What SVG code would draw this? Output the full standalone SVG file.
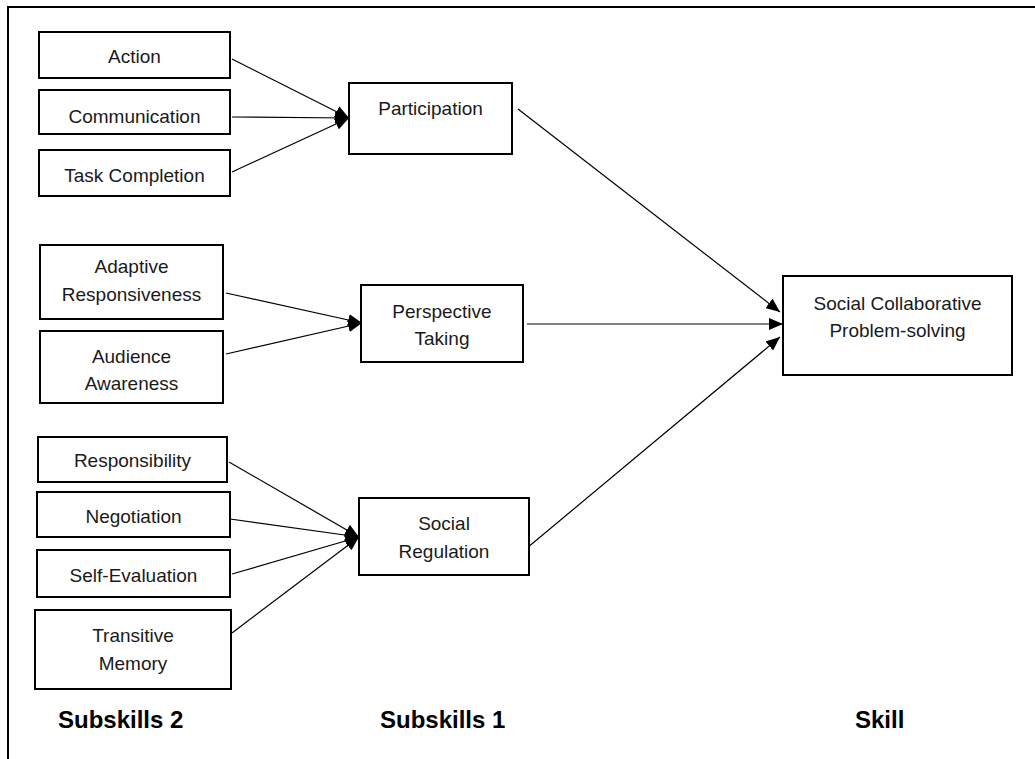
<svg xmlns="http://www.w3.org/2000/svg" width="1035" height="759" viewBox="0 0 1035 759">
  <style>
    .box { fill: #ffffff; stroke: #000000; stroke-width: 2; }
    .lbl { font-family: "Liberation Sans", Arial, sans-serif; font-size: 19px; fill: #1a1a1a; text-anchor: middle; }
    .head { font-family: "Liberation Sans", Arial, sans-serif; font-size: 24px; font-weight: bold; fill: #000000; text-anchor: start; }
    .edge { fill: none; stroke: #000000; stroke-width: 1.2; marker-end: url(#arrow); }
  </style>
  <defs>
    <marker id="arrow" markerUnits="userSpaceOnUse" markerWidth="14" markerHeight="12" refX="14" refY="6" orient="auto">
      <path d="M0,0 L14,6 L0,12 Z" fill="#000000"/>
    </marker>
  </defs>

  <rect width="1035" height="759" fill="#ffffff"/>
  <!-- outer frame (top and left edges visible) -->
  <rect x="8" y="7" width="1100" height="800" fill="none" stroke="#000000" stroke-width="2"/>

  <!-- connectors -->
  <g id="connectors">
    <line class="edge" x1="232" y1="59" x2="349" y2="118"/>
    <line class="edge" x1="232" y1="117" x2="349" y2="118"/>
    <line class="edge" x1="232" y1="172" x2="349" y2="118"/>

    <line class="edge" x1="226" y1="293" x2="362" y2="323"/>
    <line class="edge" x1="226" y1="354" x2="362" y2="323"/>

    <line class="edge" x1="229" y1="462" x2="359" y2="537"/>
    <line class="edge" x1="230" y1="519" x2="359" y2="537"/>
    <line class="edge" x1="232" y1="574" x2="359" y2="537"/>
    <line class="edge" x1="232" y1="633" x2="359" y2="537"/>

    <line class="edge" x1="518" y1="109" x2="780" y2="312"/>
    <line class="edge" x1="527" y1="324" x2="783" y2="324"/>
    <line class="edge" x1="527" y1="548" x2="780" y2="337"/>
  </g>

  <!-- subskills 2 -->
  <g id="action">
    <rect class="box" x="39" y="32" width="191" height="46"/>
    <text class="lbl" x="134.5" y="63">Action</text>
  </g>
  <g id="communication">
    <rect class="box" x="39" y="90" width="191" height="44"/>
    <text class="lbl" x="134.5" y="123">Communication</text>
  </g>
  <g id="task-completion">
    <rect class="box" x="39" y="150" width="191" height="46"/>
    <text class="lbl" x="134.5" y="182">Task Completion</text>
  </g>
  <g id="adaptive-responsiveness">
    <rect class="box" x="40" y="245" width="183" height="74"/>
    <text class="lbl" x="131.5" y="273">Adaptive</text>
    <text class="lbl" x="131.5" y="301">Responsiveness</text>
  </g>
  <g id="audience-awareness">
    <rect class="box" x="40" y="331" width="183" height="72"/>
    <text class="lbl" x="131.5" y="363">Audience</text>
    <text class="lbl" x="131.5" y="390">Awareness</text>
  </g>
  <g id="responsibility">
    <rect class="box" x="38" y="437" width="189" height="45"/>
    <text class="lbl" x="132.5" y="467">Responsibility</text>
  </g>
  <g id="negotiation">
    <rect class="box" x="37" y="492" width="193" height="45"/>
    <text class="lbl" x="133.5" y="523">Negotiation</text>
  </g>
  <g id="self-evaluation">
    <rect class="box" x="37" y="550" width="193" height="47"/>
    <text class="lbl" x="133.5" y="582">Self-Evaluation</text>
  </g>
  <g id="transitive-memory">
    <rect class="box" x="35" y="610" width="196" height="79"/>
    <text class="lbl" x="133" y="642">Transitive</text>
    <text class="lbl" x="133" y="670">Memory</text>
  </g>

  <!-- subskills 1 -->
  <g id="participation">
    <rect class="box" x="349" y="83" width="163" height="71"/>
    <text class="lbl" x="430.5" y="115">Participation</text>
  </g>
  <g id="perspective-taking">
    <rect class="box" x="361" y="285" width="162" height="77"/>
    <text class="lbl" x="442" y="318">Perspective</text>
    <text class="lbl" x="442" y="345">Taking</text>
  </g>
  <g id="social-regulation">
    <rect class="box" x="359" y="498" width="170" height="77"/>
    <text class="lbl" x="444" y="530">Social</text>
    <text class="lbl" x="444" y="558">Regulation</text>
  </g>

  <!-- skill -->
  <g id="social-collaborative-problem-solving">
    <rect class="box" x="783" y="276" width="229" height="99"/>
    <text class="lbl" x="897.5" y="310">Social Collaborative</text>
    <text class="lbl" x="897.5" y="337">Problem-solving</text>
  </g>

  <!-- column headings -->
  <g id="headings">
    <text class="head" x="58" y="728">Subskills 2</text>
    <text class="head" x="380" y="728">Subskills 1</text>
    <text class="head" x="855" y="728">Skill</text>
  </g>
</svg>
